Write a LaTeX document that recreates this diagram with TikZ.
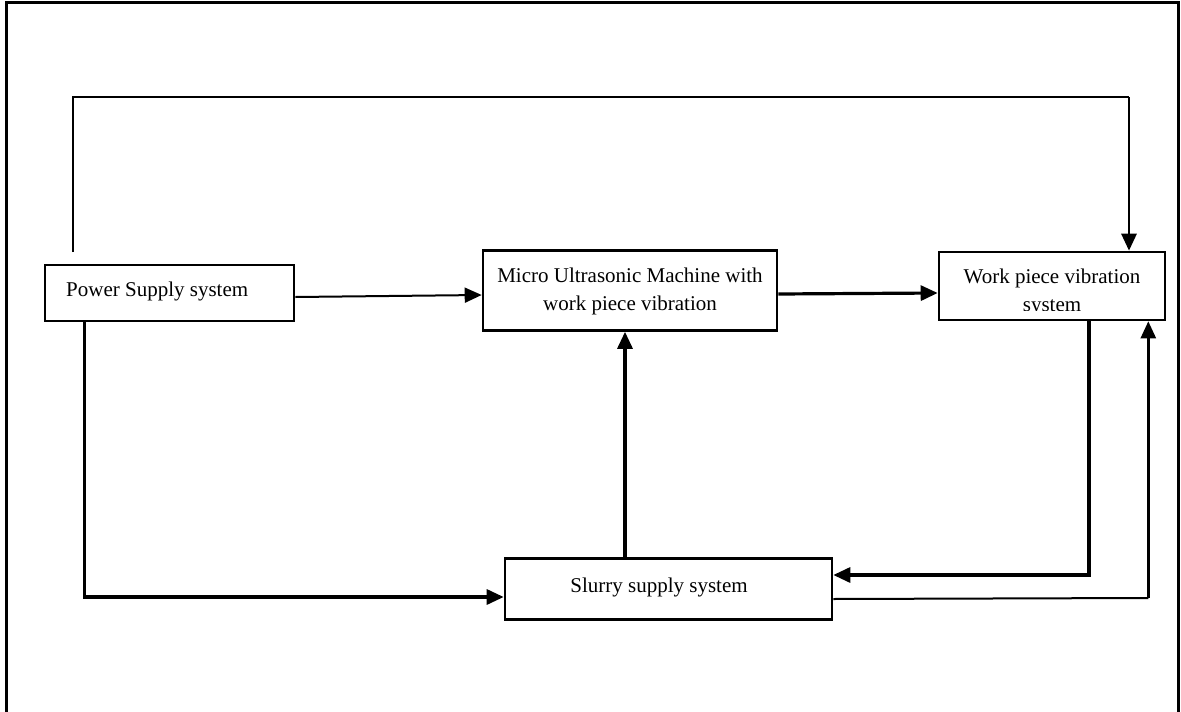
\documentclass[tikz,border=0pt]{standalone}
\usepackage{fontspec}
\setmainfont{Liberation Serif}
\usetikzlibrary{arrows.meta}
\begin{document}
\begin{tikzpicture}[x=1pt,y=-1pt,
  blk/.style={draw,line width=2.6pt,rectangle,inner sep=0pt},
  lbl/.style={font=\fontsize{21}{28}\selectfont,inner sep=0pt},
  tip/.style={-{Triangle[length=17pt,width=15pt]}},
  thinln/.style={line width=2pt},
  thkln/.style={line width=3.2pt}]
\useasboundingbox (0,0) rectangle (1181,712);
\fill[white] (0,0) rectangle (1181,712);
% outer frame (open at the bottom)
\draw[line width=3pt] (6,712) -- (6,2) -- (1178,2) -- (1178,712);

% blocks
\node[blk,minimum width=249pt,minimum height=56pt] (P) at (169.5,293) {};
\node[lbl,anchor=base west] (Pt) at (66,296) {Power Supply system};

\node[blk,minimum width=294pt,minimum height=80pt] (M) at (630,290.5) {};
\node[lbl,anchor=base] (Mt1) at (630,282) {Micro Ultrasonic Machine with};
\node[lbl,anchor=base] (Mt2) at (630,310) {work piece vibration};

\node[blk,minimum width=226pt,minimum height=68pt] (W) at (1052,286) {};
\begin{scope}
  \clip (W.north west) rectangle ([yshift=10.5pt]W.south east);
  \node[lbl,anchor=base] (Wt1) at (1052,283) {Work piece vibration};
  \node[lbl,anchor=base] (Wt2) at (1052,311) {system};
\end{scope}

\node[blk,minimum width=327pt,minimum height=61pt] (S) at (668.5,589) {};
\node[lbl,anchor=base] (St) at (659,592) {Slurry supply system};

% connectors
\coordinate (ts) at (73,252);
\coordinate (tc) at (1129,97);
\draw[thinln] (ts) |- (tc);
\draw[line width=2.8pt,tip] (tc) -- (tc |- W.north);

\draw[thinln,tip] ([yshift=-4pt]P.east) -- ([yshift=-4.5pt]M.west);
\draw[thkln,tip] ([yshift=-3.5pt]M.east) -- ([yshift=-7pt]W.west);
\draw[thkln,tip] ([xshift=-43.5pt]S.north) -- ([xshift=-5pt]M.south);
\draw[thkln,tip] ([xshift=41pt]P.south west) |- ([yshift=-8pt]S.west);
\draw[thkln,tip] ([xshift=37pt]W.south) |- ([yshift=14pt]S.east);
\draw[thinln] ([yshift=-10pt]S.east) -- ++(315,-1) coordinate (rc);
\draw[line width=2.6pt,tip] (rc) -- (rc |- W.south);
\end{tikzpicture}
\end{document}
